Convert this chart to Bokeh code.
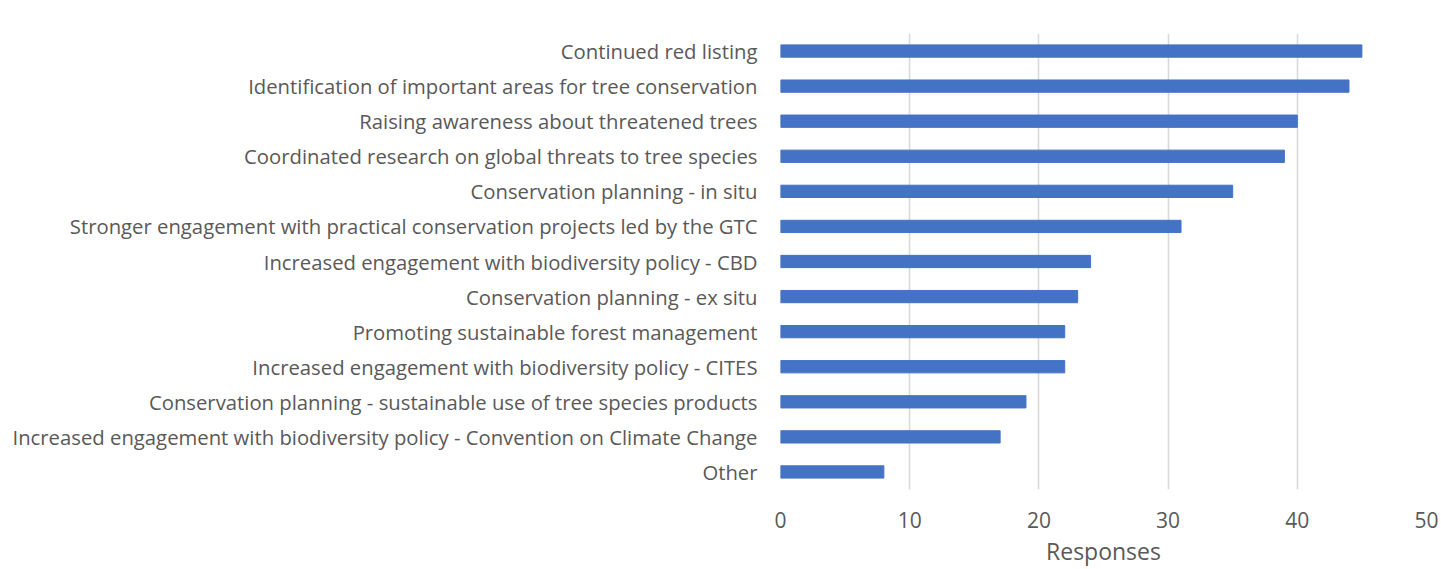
from bokeh.plotting import figure
from bokeh.models import Range1d, FactorRange, ColumnDataSource, FixedTicker
from bokeh.embed import file_html
from bokeh.resources import INLINE

categories = [
    "Continued red listing",
    "Identification of important areas for tree conservation",
    "Raising awareness about threatened trees",
    "Coordinated research on global threats to tree species",
    "Conservation planning - in situ",
    "Stronger engagement with practical conservation projects led by the GTC",
    "Increased engagement with biodiversity policy - CBD",
    "Conservation planning - ex situ",
    "Promoting sustainable forest management",
    "Increased engagement with biodiversity policy - CITES",
    "Conservation planning - sustainable use of tree species products",
    "Increased engagement with biodiversity policy - Convention on Climate Change",
    "Other",
]
responses = [45, 44, 40, 39, 35, 31, 24, 23, 22, 22, 19, 17, 8]
x_ticks = [0, 10, 20, 30, 40, 50]
x_title = "Responses"

FONT = "Open Sans"
TXT = "#595959"

src = ColumnDataSource(dict(cat=categories, val=responses))

p = figure(
    width=1440, height=569,
    y_range=FactorRange(*list(reversed(categories)), range_padding=0),
    x_range=Range1d(0, 50),
    output_backend="svg", toolbar_location=None,
    min_border_left=780, min_border_right=14, min_border_top=33, min_border_bottom=80,
)
p.hbar(y="cat", right="val", left=0, height=0.35, source=src,
       fill_color="#4472C4", line_color="#4472C4")

p.outline_line_color = None
p.background_fill_color = "white"
p.border_fill_color = "white"

p.xgrid.grid_line_color = "#D9D9D9"
p.xgrid.grid_line_width = 1.6
p.xgrid.ticker = FixedTicker(ticks=x_ticks)
p.ygrid.grid_line_color = None

p.xaxis.ticker = FixedTicker(ticks=x_ticks)
p.xaxis.axis_line_color = None
p.xaxis.major_tick_line_color = None
p.xaxis.minor_tick_line_color = None
p.xaxis.major_label_text_font = FONT
p.xaxis.major_label_text_font_size = "21px"
p.xaxis.major_label_text_color = TXT
p.xaxis.major_label_standoff = 16
p.xaxis.axis_label = x_title
p.xaxis.axis_label_text_font = FONT
p.xaxis.axis_label_text_font_size = "23px"
p.xaxis.axis_label_text_font_style = "normal"
p.xaxis.axis_label_text_color = TXT
p.xaxis.axis_label_standoff = 4

p.yaxis.axis_line_color = None
p.yaxis.major_tick_line_color = None
p.yaxis.minor_tick_line_color = None
p.yaxis.major_label_text_font = FONT
p.yaxis.major_label_text_font_size = "20.3px"
p.yaxis.major_label_text_color = TXT
p.yaxis.major_label_standoff = 17

open("out.html", "w").write(file_html(p, INLINE))
